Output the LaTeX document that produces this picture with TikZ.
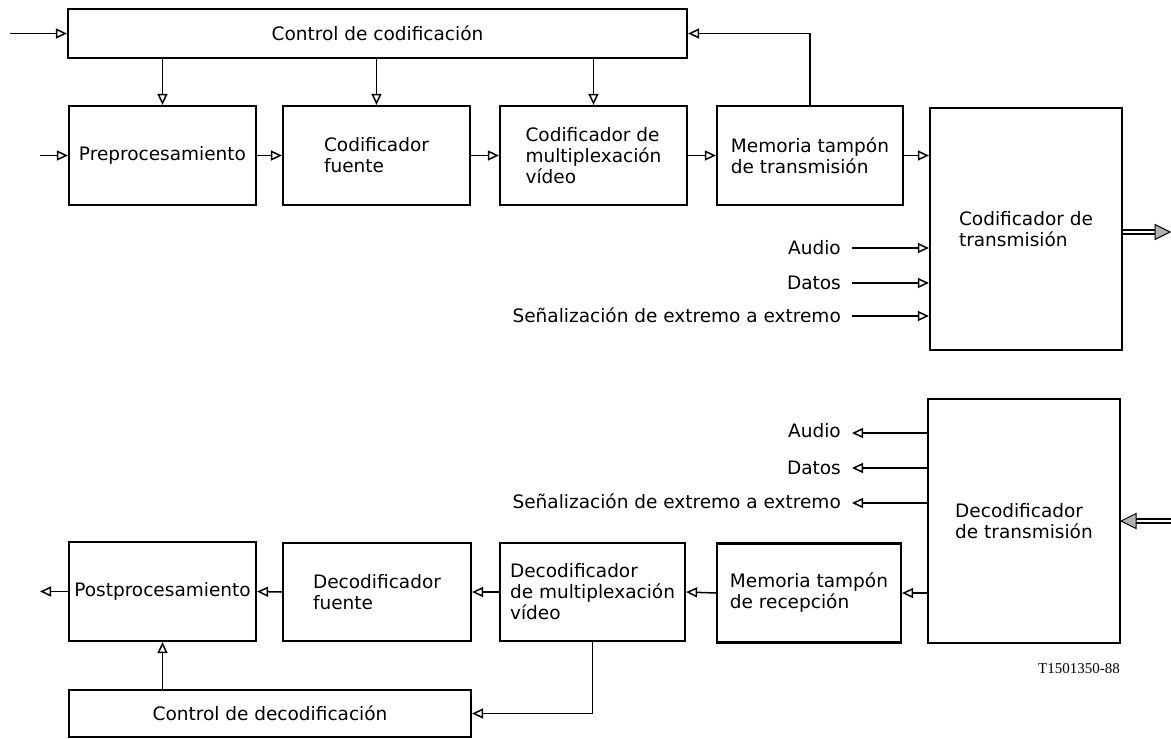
\documentclass[tikz,border=0pt]{standalone}
\usepackage{fontspec}
\setmainfont{DejaVu Sans}
\newfontfamily\codefont{Liberation Serif}
\usetikzlibrary{arrows.meta}
\begin{document}
\begin{tikzpicture}[x=1pt,y=-1pt,
  txt/.style={font=\fontsize{18.5}{21}\selectfont},
  blk/.style={txt, draw, line width=2.2pt, inner sep=0pt, align=left},
  arr/.style={line width=1.5pt, -{Triangle[open, length=11pt, width=10pt, line width=1.5pt]}},
  lbl/.style={txt, anchor=base east, inner sep=0pt},
  dbl/.style={double, double distance=2.8pt, line width=1.2pt},
  dtip/.style={fill=gray!60, draw=black, line width=1pt}]
\useasboundingbox (0,0) rectangle (1171,739);

% ---------- top (coding) ----------
\node[blk, minimum width=619, minimum height=49] (cc) at (377.5,33.5) {Control de codificación};
\node[blk, minimum width=187, minimum height=99] (pre) at (162.5,155.5) {Preprocesamiento};
\node[blk, minimum width=187, minimum height=99] (cf) at (376.5,155.5) {Codificador\\fuente};
\node[blk, minimum width=187, minimum height=99] (cm) at (593.5,155.5) {Codificador de\\multiplexación\\vídeo};
\node[blk, minimum width=186, minimum height=99] (mt) at (810,155.5) {Memoria tampón\\de transmisión};
\node[blk, minimum width=192, minimum height=242] (ct) at (1026,229) {Codificador de\\transmisión};

\coordinate (in1) at (10,33.5);
\coordinate (in2) at (40,155.5);
\draw[arr] (in1) -- (cc.west);
\draw[arr] (in2) -- (pre.west);
\draw[arr] (cc.south -| pre.north) -- (pre.north);
\draw[arr] (cc.south -| cf.north) -- (cf.north);
\draw[arr] (cc.south -| cm.north) -- (cm.north);
\draw[arr] (pre.east) -- (cf.west);
\draw[arr] (cf.east) -- (cm.west);
\draw[arr] (cm.east) -- (mt.west);
\draw[arr] (mt.east) -- (mt.east -| ct.west);
\draw[arr] (mt.north) |- (cc.east);

\node[lbl] (au1) at (841,254.5) {Audio};
\node[lbl] (da1) at (841,289.5) {Datos};
\node[lbl] (se1) at (841,322) {Señalización de extremo a extremo};
\coordinate (au1e) at (852,248);
\coordinate (da1e) at (852,283);
\coordinate (se1e) at (852,316);
\draw[arr] (au1e) -- (au1e -| ct.west);
\draw[arr] (da1e) -- (da1e -| ct.west);
\draw[arr] (se1e) -- (se1e -| ct.west);

\coordinate (out1) at (1157,232);
\draw[dbl] ([yshift=-3pt]ct.east) -- (out1);
\draw[dtip] (1155,224.5) -- (1170,232) -- (1155,239.5) -- cycle;

% ---------- bottom (decoding) ----------
\node[blk, minimum width=192, minimum height=244] (dt) at (1024,521) {Decodificador\\de transmisión};
\node[blk, minimum width=184, minimum height=99] (mr) at (809,593) {Memoria tampón\\de recepción};
\node[blk, minimum width=185, minimum height=98] (dm) at (592.5,592) {Decodificador\\de multiplexación\\vídeo};
\node[blk, minimum width=188, minimum height=98] (df) at (377,592) {Decodificador\\fuente};
\node[blk, minimum width=187, minimum height=99] (pp) at (162.5,591.5) {Postprocesamiento};
\node[blk, minimum width=402, minimum height=47] (cd) at (270,713.5) {Control de decodificación};

\node[lbl] (au2) at (841,437) {Audio};
\node[lbl] (da2) at (841,474) {Datos};
\node[lbl] (se2) at (841,508.5) {Señalización de extremo a extremo};
\coordinate (au2e) at (852,433);
\coordinate (da2e) at (852,468);
\coordinate (se2e) at (852,503);
\draw[arr] (au2e -| dt.west) -- (au2e);
\draw[arr] (da2e -| dt.west) -- (da2e);
\draw[arr] (se2e -| dt.west) -- (se2e);

\coordinate (in3) at (1171,521);
\draw[dbl] (in3) -- ([xshift=13pt]dt.east);
\draw[dtip] (dt.east) -- ++(15,-7.5) -- ++(0,15) -- cycle;

\coordinate (out2) at (40,591.5);
\draw[arr] (dt.west |- mr.east) -- (mr.east);
\draw[arr] (mr.west) -- (dm.east);
\draw[arr] (dm.west) -- (df.east);
\draw[arr] (df.west) -- (pp.east);
\draw[arr] (pp.west) -- (out2);
\draw[arr] (cd.north -| pp.south) -- (pp.south);
\draw[arr] (dm.south) |- (cd.east);

\node[anchor=east, inner sep=0pt, font=\codefont\fontsize{15}{15}\selectfont] (code) at (1120,669) {T1501350-88};
\end{tikzpicture}
\end{document}
